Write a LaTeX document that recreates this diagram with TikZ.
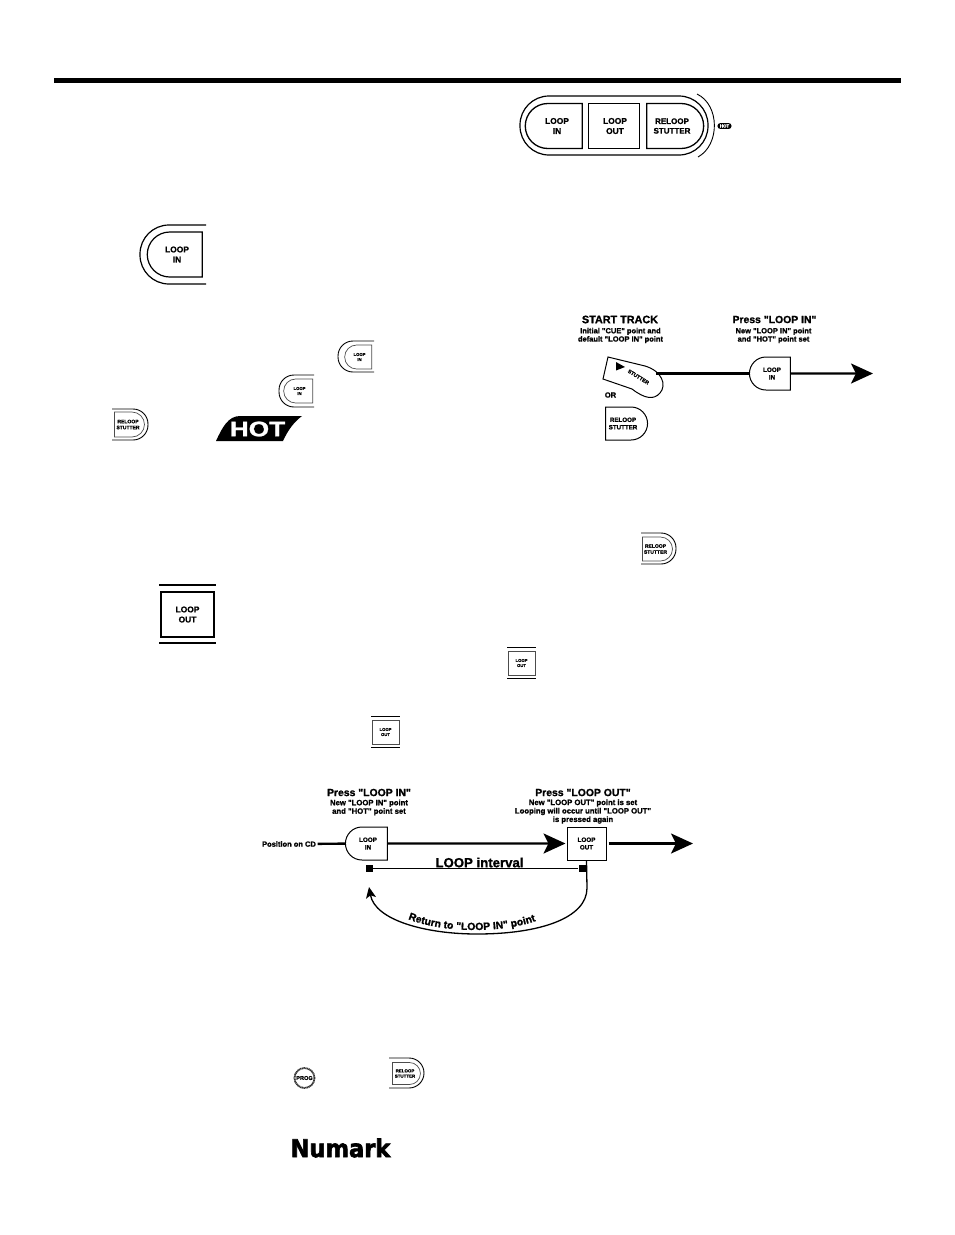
\documentclass[tikz,border=0pt]{standalone}
\usepackage{fontspec}
\newfontfamily\labelfont[BoldFeatures={FakeBold=1.2}]{Liberation Sans}
\newfontfamily\logofont[BoldFeatures={FakeBold=2.5}]{DejaVu Sans}
\newcommand{\btnlabel}[3]{\hspace*{#1}#2\\\hspace*{#1}#3}
\usetikzlibrary{arrows.meta,shapes.misc,decorations.text}

\begin{document}
\begin{tikzpicture}[
    x=1pt,
    y=-1pt,
    btnfont/.style={
        font=\labelfont\bfseries\fontsize{#1}{\dimexpr#1pt*12/10\relax}\selectfont,
        align=center,
        text=black
    },
    btnbase/.style={
        draw,
        inner sep=0pt,
        minimum width=#1
    },
    inbtn/.style={
        btnbase=#1,
        rounded rectangle,
        rounded rectangle east arc=none
    },
    relbtn/.style={
        btnbase=#1,
        rounded rectangle,
        rounded rectangle west arc=none
    },
    outbtn/.style={
        btnbase=#1,
        rectangle
    },
    ring/.style={
        draw,
        line width=0.9pt
    },
    caption/.style={
        font=\labelfont\bfseries\fontsize{#1}{\dimexpr#1pt*11/10\relax}\selectfont,
        align=center,
        inner sep=0pt
    },
    track/.style={
        line width=2.4pt
    },
    bigarrow/.style={
        track,
        -{Stealth[length=22pt,width=20pt,inset=5pt]}
    }
]

    \useasboundingbox (0,0) rectangle (954,1235);

    % Top rule
    \coordinate (ruleL) at (54,80.5);
    \coordinate (ruleR) at (901,80.5);
    \draw[line width=4.5pt] (ruleL) -- (ruleR);

    % Button panel
    \node[inbtn=57pt,line width=1.3pt,minimum height=45pt,btnfont=8.4] (panelin) at (554.5,126) {\btnlabel{5pt}{LOOP}{IN}};
    \node[outbtn=51pt,line width=1.3pt,minimum height=45pt,btnfont=8.4] (panelout) at (614,126) {\btnlabel{2pt}{LOOP}{OUT}};
    \node[relbtn=57pt,line width=1.3pt,minimum height=45pt,btnfont=8] (panelrel) at (674.5,126) {\btnlabel{-5pt}{RELOOP}{STUTTER}};
    \draw[line width=1.2pt,rounded corners=29pt] (614,96) -- (520,96) -- (520,155) -- (708,155) -- (708,96) -- cycle;
    \draw[line width=0.9pt] (697,94) .. controls (720,105) and (720,145) .. (698,157);
    \node[fill=black,rounded rectangle,inner xsep=2pt,inner ysep=1.4pt,btnfont=4.4,text=white] (panelhot) at (724.5,126) {HOT};

    % Loop in, large
    \node[inbtn=55pt,line width=1.2pt,minimum height=45pt,btnfont=8.4] (bigin) at (175.5,254.5) {\btnlabel{3pt}{LOOP}{IN}};
    \draw[ring,line width=1.2pt,rounded corners=29pt] (206,225) -- (140,225) -- (140,284) -- (206,284);

    % Small buttons in the text
    \node[inbtn=27pt,line width=0.7pt,draw=black!70,minimum height=24pt,btnfont=4.2] (inA) at (358.5,357) {\btnlabel{2pt}{LOOP}{IN}};
    \draw[ring,rounded corners=15pt] (374,341) -- (338,341) -- (338,372) -- (374,372);
    \node[inbtn=29pt,line width=0.7pt,draw=black!70,minimum height=24pt,btnfont=4.2] (inB) at (298.5,391) {\btnlabel{2pt}{LOOP}{IN}};
    \draw[ring,rounded corners=15pt] (314,375) -- (279,375) -- (279,407) -- (314,407);
    \node[relbtn=30pt,line width=0.7pt,draw=black!70,minimum height=25pt,btnfont=5] (relA) at (129,424.5) {\btnlabel{-2pt}{RELOOP}{STUTTER}};
    \draw[ring,rounded corners=15pt] (112,409) -- (148,409) -- (148,440) -- (112,440);

    % HOT label
    \fill (216,441) .. controls (222,428) and (228,416) .. (240,416) -- (302,416) .. controls (294,422) and (288,430) .. (283,441) -- cycle;
    \node[font=\labelfont\bfseries\fontsize{21}{21}\selectfont,text=white,inner sep=0pt,xscale=1.25,transform shape] (hotlabel) at (257.5,429) {HOT};

    % Start track diagram
    \node[caption=10.8] (starttitle) at (620,319.5) {START TRACK};
    \node[caption=7.5] (startnote) at (620.5,335.5) {Initial "CUE" point and\\default "LOOP IN" point};
    \node[caption=10.4] (presstitle) at (774.5,319.5) {Press "LOOP IN"};
    \node[caption=7.5] (pressnote) at (773.5,335.5) {New "LOOP IN" point\\and "HOT" point set};
    \draw[line width=1pt] (608,357) -- (645,366) .. controls (662,371) and (667,385) .. (660,393) .. controls (654,400) and (645,399) .. (632,389) -- (603,379) -- cycle;
    \fill (616,362) -- (625,367) -- (616,370.5) -- cycle;
    \node[btnfont=5.2,rotate=-32] (stutter) at (638.5,377) {STUTTER};
    \coordinate (stutterend) at (656,373.5);
    \node[inbtn=41pt,line width=1pt,minimum height=33pt,btnfont=6.3,fill=white] (pressin) at (770.5,373.5) {\btnlabel{3pt}{LOOP}{IN}};
    \coordinate (stopA) at (873,373.5);
    \draw[track] (stutterend) -- (pressin);
    \draw[bigarrow] (pressin) -- (stopA);
    \node[caption=7.5] (orlabel) at (610.5,395) {OR};
    \node[relbtn=42pt,line width=1pt,minimum height=33pt,btnfont=6.2] (pressrel) at (626,423.5) {\btnlabel{-6pt}{RELOOP}{STUTTER}};

    % More small buttons
    \node[relbtn=30pt,line width=0.7pt,draw=black!70,minimum height=24pt,btnfont=5] (relB) at (657,549) {\btnlabel{-3pt}{RELOOP}{STUTTER}};
    \draw[ring,rounded corners=15pt] (641,533) -- (676,533) -- (676,564) -- (641,564);

    % Loop out, large
    \node[outbtn=53pt,line width=1.2pt,minimum height=45pt,btnfont=8.4] (bigout) at (187.5,614.5) {LOOP\\OUT};
    \coordinate (bigA) at (159,585);
    \coordinate (bigB) at (216,585);
    \coordinate (bigC) at (159,643);
    \coordinate (bigD) at (216,643);
    \draw[line width=1.2pt] (bigA) -- (bigB);
    \draw[line width=1.2pt] (bigC) -- (bigD);

    \node[outbtn=27pt,line width=0.8pt,draw=black!70,minimum height=24pt,btnfont=4.2] (outA) at (521.5,663) {LOOP\\OUT};
    \draw[ring] (507,647.5) -- (536,647.5);
    \draw[ring] (507,678) -- (536,678);
    \node[outbtn=27pt,line width=0.8pt,draw=black!70,minimum height=24pt,btnfont=4.2] (outB) at (385.5,732) {LOOP\\OUT};
    \draw[ring] (371,716.5) -- (400,716.5);
    \draw[ring] (371,747) -- (400,747);

    % Loop diagram
    \node[caption=10.4] (intitle) at (369,792.5) {Press "LOOP IN"};
    \node[caption=7.7] (innote) at (369,807.5) {New "LOOP IN" point\\and "HOT" point set};
    \node[caption=10.4] (outtitle) at (583,792.5) {Press "LOOP OUT"};
    \node[caption=7.7] (outnote) at (583,811.5) {New "LOOP OUT" point is set\\Looping will occur until "LOOP OUT"\\is pressed again};
    \node[caption=7.5] (cdlabel) at (289,844) {Position on CD};
    \node[inbtn=42pt,line width=1pt,minimum height=33pt,btnfont=6.3,fill=white] (loopin) at (367,843.5) {\btnlabel{2pt}{LOOP}{IN}};
    \node[outbtn=39pt,line width=1pt,minimum height=33pt,btnfont=6.3,fill=white] (loopout) at (586.5,843.5) {LOOP\\OUT};
    \coordinate (stopB) at (693,843.5);
    \draw[track,shorten <=1.5pt] (cdlabel) -- (loopin);
    \draw[bigarrow,shorten >=1pt] (loopin) -- (loopout);
    \draw[bigarrow,shorten <=2pt] (loopout) -- (stopB);

    % Interval
    \node[fill=black,minimum size=7pt,inner sep=0pt] (markL) at (369,868.5) {};
    \node[fill=black,minimum size=7pt,inner sep=0pt] (markR) at (582,868.5) {};
    \draw[line width=1.5pt] (markL) -- (markR);
    \node[caption=13.2] (intervallabel) at (479.5,862.5) {LOOP interval};

    % Return curve
    \coordinate (backA) at (587,888);
    \coordinate (backB) at (477,934);
    \coordinate (backC) at (369,887);
    \draw[line width=1.3pt,-{Stealth[length=11pt,width=10pt,inset=2.5pt]}] (loopout.south) -- (backA) .. controls (587,918) and (540,934) .. (backB) .. controls (425,934) and (375,920) .. (backC);
    \path[decorate,decoration={text along path,text align=center,text={|\labelfont\bfseries\fontsize{10.4}{11}\selectfont|Return to "LOOP IN" point}}] (403,917) .. controls (440,934) and (505,934) .. (541,919);

    % Bottom buttons
    \node[circle,draw=black!80,line width=1.8pt,dash pattern=on 1.2pt off 0.5pt,minimum size=20pt,inner sep=0pt] (prog) at (304.5,1078) {};
    \node[btnfont=5.6] (proglabel) at (prog) {PROG};
    \node[relbtn=28pt,line width=0.7pt,draw=black!70,minimum height=22pt,btnfont=4.4] (relC) at (406,1073.5) {\btnlabel{-2pt}{RELOOP}{STUTTER}};
    \draw[ring,rounded corners=15pt] (389,1058) -- (424,1058) -- (424,1088) -- (389,1088);

    % Logo
    \node[font=\logofont\bfseries\fontsize{24.5}{24.5}\selectfont,inner sep=0pt,xscale=0.92,transform shape] (logo) at (340.5,1148) {Numark};

\end{tikzpicture}
\end{document}
